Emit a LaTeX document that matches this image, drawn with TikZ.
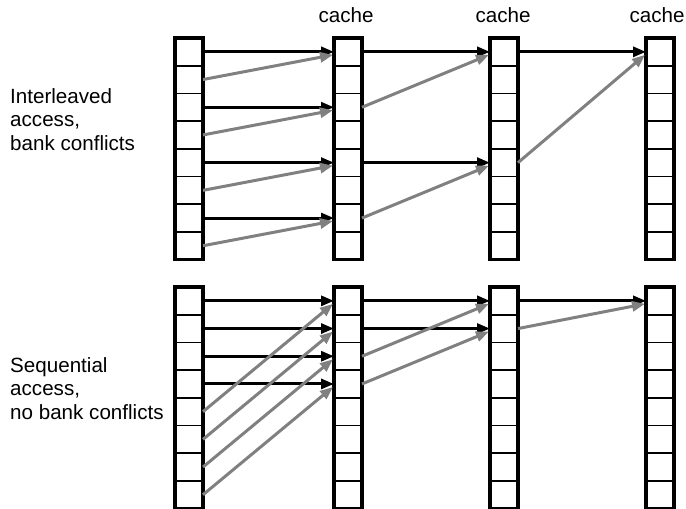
\documentclass[tikz,border=0pt]{standalone}
\usepackage{fontspec}
\setmainfont{Liberation Sans}
\usetikzlibrary{arrows.meta,calc}
\definecolor{arrowgray}{HTML}{808080}
\begin{document}
\begin{tikzpicture}[x=1pt,y=-1pt,
  cell/.style={draw, line width=1.6pt, minimum width=28pt, minimum height=27.7pt, inner sep=0pt, outer sep=0pt},
  column/.style={draw, line width=3.6pt, minimum width=28pt, minimum height=221.6pt, inner sep=0pt, outer sep=0pt},
  lbl/.style={font=\fontsize{20.6}{23.8}\selectfont, inner sep=0pt},
  link/.style={line width=3pt, -{Triangle[length=13pt,width=10pt]}},
  blk/.style={link, draw=black, fill=black},
  gry/.style={link, draw=arrowgray, fill=arrowgray}]
\useasboundingbox (0,0) rectangle (686,509);

% memory columns: t = upper scheme, b = lower scheme
\foreach \c/\x in {1/189,2/348,3/504,4/660} {
  \foreach \r in {0,...,7} {
    \node[cell] (t\c-\r) at (\x,{51.85+27.7*\r}) {};
    \node[cell] (b\c-\r) at (\x,{300.85+27.7*\r}) {};
  }
  \node[column] (tc\c) at (\x,148.8) {};
  \node[column] (bc\c) at (\x,397.8) {};
}

% labels
\node[lbl, anchor=base] (cap2) at (346,22) {cache};
\node[lbl, anchor=base] (cap3) at (503,22) {cache};
\node[lbl, anchor=base] (cap4) at (657,22) {cache};
\node[lbl, align=left, anchor=north west] (lab1) at (10,88) {Interleaved\\access,\\bank conflicts};
\node[lbl, align=left, anchor=north west] (lab2) at (10,357) {Sequential\\access,\\no bank conflicts};

% interleaved addressing
\foreach \s/\d in {t1-0/t2-0,t1-2/t2-2,t1-4/t2-4,t1-6/t2-6,t2-0/t3-0,t2-4/t3-4,t3-0/t4-0}
  \draw[blk] (\s.east) -- (\d.west);
\foreach \s/\d in {t1-1/t2-0,t1-3/t2-2,t1-5/t2-4,t1-7/t2-6,t2-2/t3-0,t2-6/t3-4,t3-4/t4-0}
  \draw[gry] (\s.east) -- ($(\d.west)+(-1,3)$);

% sequential addressing
\foreach \s/\d in {b1-0/b2-0,b1-1/b2-1,b1-2/b2-2,b1-3/b2-3,b2-0/b3-0,b2-1/b3-1,b3-0/b4-0}
  \draw[blk] (\s.east) -- (\d.west);
\foreach \s/\d in {b1-4/b2-0,b1-5/b2-1,b1-6/b2-2,b1-7/b2-3,b2-2/b3-0,b2-3/b3-1,b3-1/b4-0}
  \draw[gry] (\s.east) -- ($(\d.west)+(-1,3)$);
\end{tikzpicture}
\end{document}
